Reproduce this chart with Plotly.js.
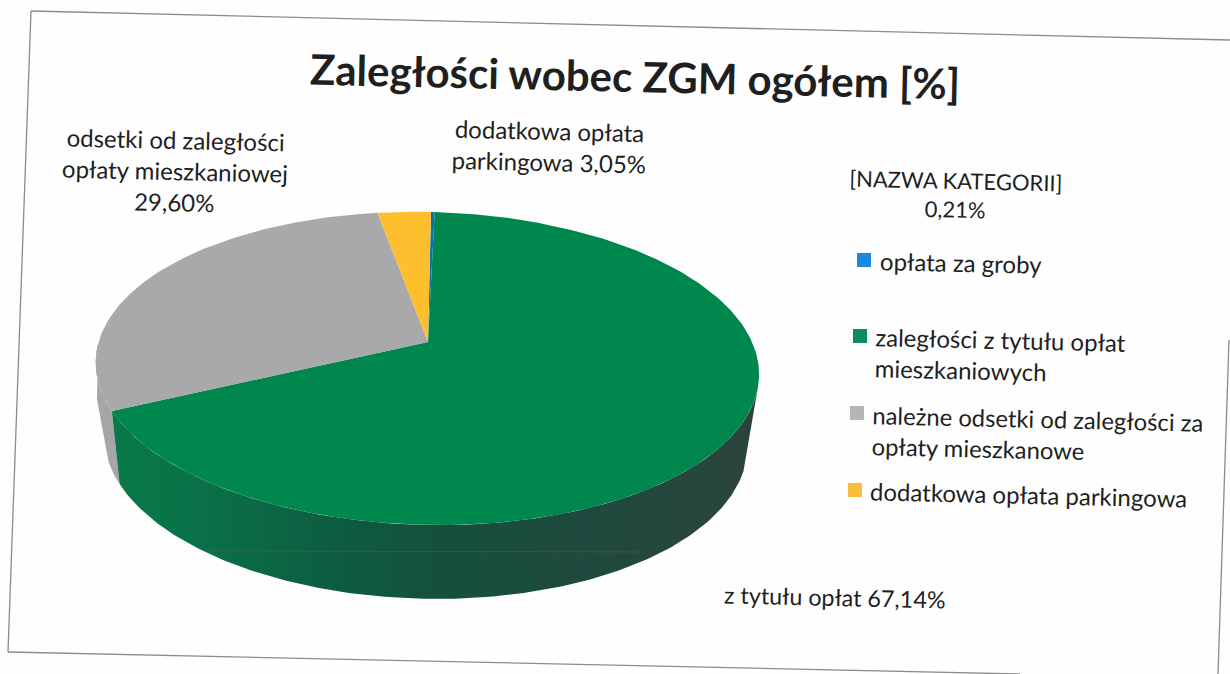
<!DOCTYPE html>
<html><head><meta charset="utf-8">
<script src="https://cdn.plot.ly/plotly-3.0.1.min.js"></script>
<style>html,body{margin:0;padding:0;background:#fefefe}#c{width:1230px;height:674px}</style></head>
<body><div id="c"></div>
<script>
const chartTitle = 'Zaległości wobec ZGM ogółem [%]';
const categories = ['opłata za groby', 'zaległości z tytułu opłat<br>mieszkaniowych', 'należne odsetki od zaległości za<br>opłaty mieszkanowe', 'dodatkowa opłata parkingowa'];
const shares = [0.21, 67.14, 29.60, 3.05];
const dataLabels = ['[NAZWA KATEGORII]<br>0,21%', 'z tytułu opłat 67,14%', 'odsetki od zaległości<br>opłaty mieszkaniowej<br>29,60%', 'dodatkowa opłata<br>parkingowa 3,05%'];
const topColors = ['#0a6fb5', '#00874e', '#a9a8ab', '#fdbf2e'];
const keyColors = ['#1c88e0', '#0c8c60', '#b4b4b9', '#fbbd3c'];

const TILT = 1.3 * Math.PI / 180;
const cx = 428, cy = 342, A = 327, B = 152, K = 0.169;
function rot(x, y) {
  const dx = x - cx, dy = y - cy;
  return [cx + dx * Math.cos(TILT) - dy * Math.sin(TILT), cy + dx * Math.sin(TILT) + dy * Math.cos(TILT)];
}
function rim(frac) {
  const t = 2 * Math.PI * frac, d = 1 + K * Math.cos(t);
  return [A * Math.sin(t) / d, -B * Math.cos(t) / d];
}
function topPt(frac) { const p = rim(frac); return rot(cx + p[0], cy + p[1]); }
function botPt(frac) { const p = rim(frac); return rot(cx + p[0] * 0.97, cy + 72 + p[1] * 1.01); }
function arc(fn, a, b) {
  const n = Math.max(2, Math.ceil(Math.abs(b - a) * 400)), out = [];
  for (let i = 0; i <= n; i++) out.push(fn(a + (b - a) * i / n));
  return out;
}
function poly(pts, color, extra) {
  return Object.assign({type: 'scatter', mode: 'lines', x: pts.map(p => p[0]), y: pts.map(p => p[1]),
    fill: 'toself', fillcolor: color, line: {width: 0}, hoverinfo: 'skip', showlegend: false}, extra || {});
}
const total = shares.reduce((s, v) => s + v, 0);
const edges = [0];
shares.forEach(v => edges.push(edges[edges.length - 1] + v / total));

const traces = [];
// side walls: grey first, then green
const leftTop = topPt(0.74);
traces.push(poly(arc(topPt, edges[2], 0.74).concat([[leftTop[0] - 1, leftTop[1] + 55]], arc(botPt, 0.70, edges[2])), '#a6a6a9'));
traces.push(poly(arc(topPt, 0.29, edges[2]).concat(arc(botPt, edges[2], 0.30)), '#124f3c', {
  fillgradient: {type: 'horizontal', colorscale: [[0, '#08794a'], [0.16, '#0a6f47'], [0.36, '#0e5b40'], [0.52, '#15503d'], [0.72, '#1f4a3e'], [1, '#2b443c']]}
}));
// top faces
shares.forEach((v, i) => {
  traces.push(poly([[cx, cy]].concat(arc(topPt, edges[i], edges[i + 1])), topColors[i], {name: categories[i]}));
});
// colour key
const keyX = [864, 860, 857, 855], keyY = [260, 336, 413, 490];
traces.push({type: 'scatter', mode: 'markers', x: keyX, y: keyY, hoverinfo: 'skip', showlegend: false,
  marker: {symbol: 'square', size: 14, color: keyColors, line: {width: 0}}});

const deg = 1.3, ink = '#1f1f1f', fam = 'Lato, "Open Sans", sans-serif';
function note(text, x, y, size, anchor, align, bold) {
  return {text: bold ? '<b>' + text + '</b>' : text, x, y, xref: 'x', yref: 'y', showarrow: false, textangle: deg,
    xanchor: anchor, yanchor: 'middle', align, font: {family: fam, size, color: ink}};
}
const annotations = [
  note(chartTitle, 635, 76, 42, 'center', 'center', true),
  note(dataLabels[2], 175, 170, 24, 'center', 'center'),
  note(dataLabels[3], 549, 146, 24, 'center', 'center'),
  note(dataLabels[0], 955, 195, 22, 'center', 'center'),
  note(dataLabels[1], 835, 597, 23.3, 'center', 'center'),
  note(categories[0], 878, 262, 24, 'left', 'left'),
  note(categories[1], 872, 355, 24, 'left', 'left'),
  note(categories[2], 869, 434, 23.8, 'left', 'left'),
  note(categories[3], 868, 494, 24, 'left', 'left')
];
const edge = {color: '#8c8c8c', width: 1.3};
const shapes = [
  {type: 'line', xref: 'x', yref: 'y', x0: 31, y0: 11, x1: 1230, y1: 40, line: edge},
  {type: 'line', xref: 'x', yref: 'y', x0: 31, y0: 11, x1: 8, y1: 652, line: edge},
  {type: 'line', xref: 'x', yref: 'y', x0: 8, y0: 652, x1: 1020, y1: 674, line: edge},
  {type: 'line', xref: 'x', yref: 'y', x0: 1229, y0: 340, x1: 1218, y1: 674, line: edge},
  {type: 'line', xref: 'x', yref: 'y', x0: 205, y0: 551, x1: 640, y1: 552, line: {color: 'rgba(125,85,65,0.45)', width: 1}}
];
Plotly.newPlot('c', traces, {
  width: 1230, height: 674, margin: {l: 0, r: 0, t: 0, b: 0},
  paper_bgcolor: '#fefefe', plot_bgcolor: '#fefefe', showlegend: false,
  xaxis: {range: [0, 1230], visible: false, fixedrange: true},
  yaxis: {range: [674, 0], visible: false, fixedrange: true},
  annotations, shapes
}, {displayModeBar: false, staticPlot: true});
</script></body></html>
